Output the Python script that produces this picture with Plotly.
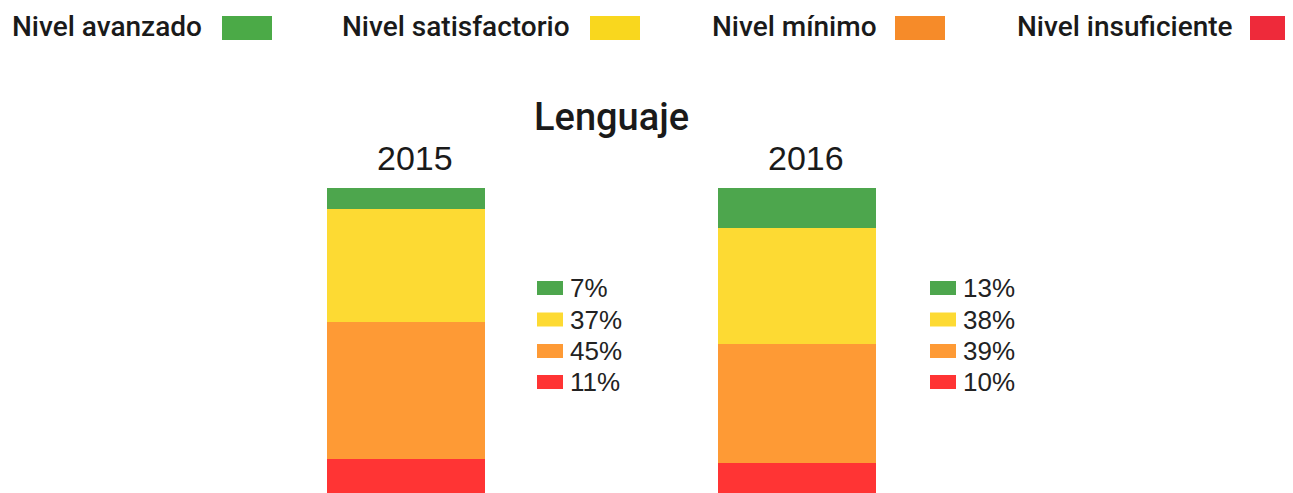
import plotly.graph_objects as go

# page has an 8px body margin; figure sits at (8, 8) in the 1293x493 window
OFF = 8
W, H = 1293 - OFF, 493 - OFF

years = ["2015", "2016"]
levels = ["Nivel avanzado", "Nivel satisfactorio", "Nivel mínimo", "Nivel insuficiente"]
values_2015 = [7, 37, 45, 11]
values_2016 = [13, 38, 39, 10]
title = "Lenguaje"

bar_colors = ["#4DA64D", "#FDDA33", "#FE9A35", "#FF3434"]
legend_colors = ["#4BAA47", "#F9D71E", "#F68B29", "#EE2A3A"]

series = {"2015": values_2015, "2016": values_2016}

# layout geometry (screen pixels)
bar_px = {"2015": (327, 485), "2016": (718, 876)}
bar_top_px = 188
year_label_px = {"2015": 415, "2016": 806}
mini_legend_px = {"2015": 537, "2016": 930}
mini_rows_y = [288, 319.5, 351, 382]
top_text_x = [10, 340, 710, 1015]
top_sw_x = [222, 590, 895, 1250]


def px(x):
    return (x - OFF) / W


def py(y):
    return 1 - (y - OFF) / H


fig = go.Figure()
axes = {"2015": ("x", "y"), "2016": ("x2", "y2")}

# stack from bottom (insuficiente) to top (avanzado)
for yr in years:
    xa, ya = axes[yr]
    for i in reversed(range(len(levels))):
        fig.add_trace(go.Bar(
            x=[0], y=[series[yr][i]], name=levels[i],
            marker=dict(color=bar_colors[i], line=dict(width=0)),
            width=1, xaxis=xa, yaxis=ya, showlegend=False,
            hoverinfo="skip",
        ))

fig.update_layout(
    width=W, height=H, barmode="stack",
    margin=dict(l=0, r=0, t=0, b=0),
    paper_bgcolor="white", plot_bgcolor="white",
    showlegend=False,
)
for yr in years:
    xa, ya = axes[yr]
    xn = "xaxis" if xa == "x" else "xaxis2"
    yn = "yaxis" if ya == "y" else "yaxis2"
    fig.layout[xn] = dict(domain=[px(bar_px[yr][0]), px(bar_px[yr][1])],
                          range=[-0.5, 0.5], visible=False, fixedrange=True,
                          anchor=ya)
    fig.layout[yn] = dict(domain=[0, py(bar_top_px)], range=[0, 100],
                          visible=False, fixedrange=True, anchor=xa)

annotations = []
shapes = []

# top legend
for i, lv in enumerate(levels):
    annotations.append(dict(
        x=px(top_text_x[i]), y=py(27), xref="paper", yref="paper",
        xanchor="left", yanchor="middle", showarrow=False, text=lv,
        font=dict(family="Roboto", size=28, color="#1a1a1a", weight=500),
    ))
    shapes.append(dict(
        type="rect", xref="paper", yref="paper",
        x0=px(top_sw_x[i]), x1=px(top_sw_x[i] + 50),
        y0=py(40), y1=py(16),
        fillcolor=legend_colors[i], line=dict(width=0),
    ))

# title
annotations.append(dict(
    x=px(611), y=py(117), xref="paper", yref="paper",
    xanchor="center", yanchor="middle", showarrow=False, text=title,
    font=dict(family="Roboto", size=38, color="#1a1a1a", weight=500),
))

for yr in years:
    annotations.append(dict(
        x=px(year_label_px[yr]), y=py(158), xref="paper", yref="paper",
        xanchor="center", yanchor="middle", showarrow=False, text=yr,
        font=dict(family="Liberation Sans", size=34, color="#1a1a1a"),
    ))
    x0 = mini_legend_px[yr]
    for i in range(len(levels)):
        yc = mini_rows_y[i]
        shapes.append(dict(
            type="rect", xref="paper", yref="paper",
            x0=px(x0), x1=px(x0 + 26), y0=py(yc + 7), y1=py(yc - 7),
            fillcolor=bar_colors[i], line=dict(width=0),
        ))
        annotations.append(dict(
            x=px(x0 + 31), y=py(yc), xref="paper", yref="paper",
            xanchor="left", yanchor="middle", showarrow=False,
            text=f"{series[yr][i]}%",
            font=dict(family="Liberation Sans", size=26, color="#222222"),
        ))

fig.update_layout(annotations=annotations, shapes=shapes)
fig.write_html("out.html")
